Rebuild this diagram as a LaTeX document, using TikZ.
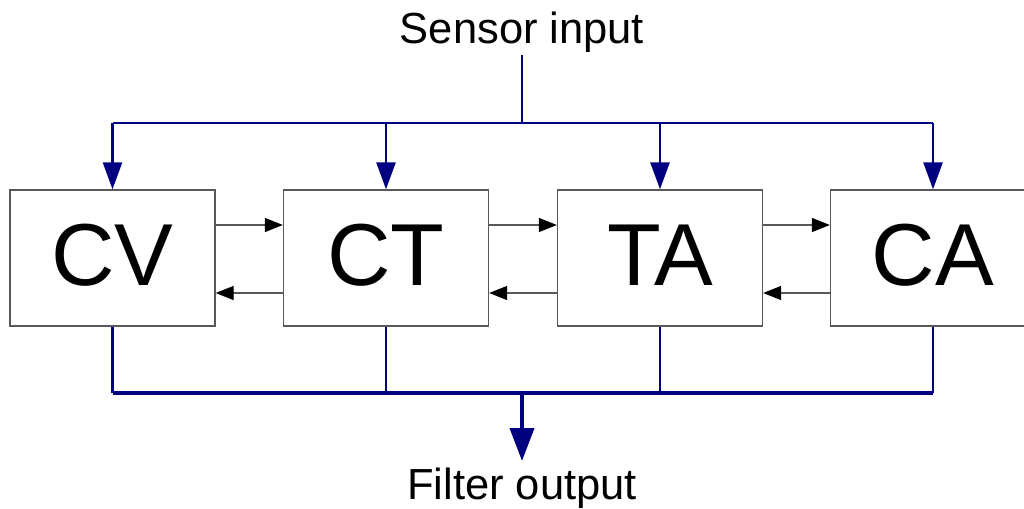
\documentclass[tikz,border=0pt]{standalone}
\usepackage{fontspec}
\setmainfont{Liberation Sans}
\usetikzlibrary{arrows.meta}
\definecolor{navy}{RGB}{0,0,128}
\begin{document}
\begin{tikzpicture}[x=1pt,y=-1pt,
  box/.style={draw=black!65, line width=1.3pt, fill=white, minimum width=205pt, minimum height=136pt, inner sep=0pt, text height=63pt, text depth=9pt, font=\fontsize{88}{88}\selectfont},
  label/.style={inner sep=0pt, font=\fontsize{43.5}{43.5}\selectfont},
  feed/.style={draw=navy, line width=2.5pt},
  feedarrow/.style={feed, -{Triangle[length=27pt,width=19pt]}},
  bus/.style={draw=navy, line width=3.5pt},
  outarrow/.style={draw=navy, line width=4pt, -{Triangle[length=33pt,width=24pt]}},
  link/.style={draw=black!65, line width=1.2pt, -{Triangle[length=18pt,width=14pt,fill=black,color=black]}},
]
\useasboundingbox (0,0) rectangle (1024,508);
\clip (0,0) rectangle (1024,508);
\node[box] (cv) at (112.5,258) {CV};
\node[box] (ct) at (386,258) {CT};
\node[box] (ta) at (660,258) {TA};
\node[box] (ca) at (933,258) {CA};
\node[label, anchor=base] (sin) at (522,44) {Sensor input};
\node[label, anchor=base] (fout) at (522,499) {Filter output};
\coordinate (stem) at (522,55);
\coordinate (tj) at (522,123);
\coordinate (bj) at (522,393);
\coordinate (oe) at (522,461);
% input distribution
\draw[feed] (stem) -- (tj);
\draw[feed] (cv.north |- tj) -- (ca.north |- tj);
\foreach \n in {cv,ct,ta,ca}{
  \draw[feedarrow] (\n.north |- tj) -- (\n.north);
}
% interactions
\draw[link] ([yshift=33pt]cv.east) -- ([yshift=33pt]ct.west);
\draw[link] ([yshift=-35pt]ct.west) -- ([yshift=-35pt]cv.east);
\draw[link] ([yshift=33pt]ct.east) -- ([yshift=33pt]ta.west);
\draw[link] ([yshift=-35pt]ta.west) -- ([yshift=-35pt]ct.east);
\draw[link] ([yshift=33pt]ta.east) -- ([yshift=33pt]ca.west);
\draw[link] ([yshift=-35pt]ca.west) -- ([yshift=-35pt]ta.east);
% output combination
\foreach \n in {cv,ct,ta,ca}{
  \draw[feed] (\n.south) -- (\n.south |- bj);
}
\draw[bus] (cv.south |- bj) -- (ca.south |- bj);
\draw[outarrow] (bj) -- (oe);
\end{tikzpicture}
\end{document}
